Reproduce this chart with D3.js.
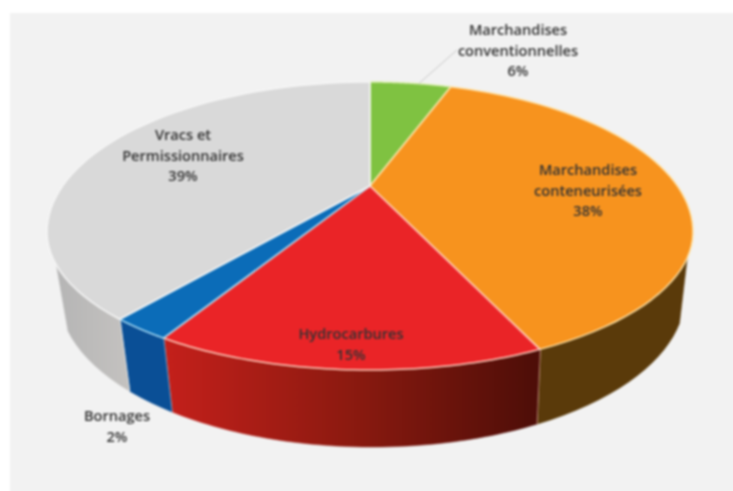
<!DOCTYPE html>
<html><head><meta charset="utf-8">
<script src="https://cdn.jsdelivr.net/npm/d3@7"></script>
<style>html,body{margin:0;background:#fff;overflow:hidden;height:100%}svg{display:block;filter:blur(1.1px)}</style>
</head><body><div id="c"></div>
<script>
const categories=[["Marchandises","conventionnelles"],["Marchandises","conteneurisées"],["Hydrocarbures"],["Bornages"],["Vracs et","Permissionnaires"]];
const shares=[5.5,38,14.7,2.4,39.4];
const percentLabels=["6%","38%","15%","2%","39%"];
const topColors=["#7fc241","#f7931e","#ea2427","#0b6cb8","#d9d9d9"];
const sideColors=["#4d7a25","#5a3a0a","url(#redSide)","#0a4f96","url(#greySide)"];
const labelCenters=[[518,30],[588,170],[351,334],[117,416],[183,135]];
const edgeColors=["#dcefb0","#ffe3a8","#ffd0c0","#a8dcf5","#f6f6f6"];

const W=733,H=491,bleed=12;
const svg=d3.select("#c").append("svg").attr("width",W+bleed).attr("height",H+bleed);
const defs=svg.append("defs");
function grad(id,stops){const g=defs.append("linearGradient").attr("id",id).attr("gradientUnits","userSpaceOnUse")
  .attr("x1",165).attr("x2",535).attr("y1",0).attr("y2",0);
  stops.forEach(s=>g.append("stop").attr("offset",s[0]).attr("stop-color",s[1]));}
grad("redSide",[[0,"#c4201b"],[.5,"#8c1a10"],[1,"#4e0e08"]]);
const gg=defs.append("linearGradient").attr("id","greySide").attr("gradientUnits","userSpaceOnUse").attr("x1",50).attr("x2",130).attr("y1",0).attr("y2",0);
gg.append("stop").attr("offset",0).attr("stop-color","#b4b4b4");
gg.append("stop").attr("offset",1).attr("stop-color","#c4c2c0");

svg.append("rect").attr("x",10).attr("y",13).attr("width",W+bleed-10).attr("height",H+bleed-13).attr("fill","#f2f2f2");

// the top face's far half is flatter in the picture's perspective than its near half
const topEl={cx:370,cy:232,rx:323,ryUp:150,ryDown:138}, botEl={cx:372,cy:295,rx:313,ryUp:152,ryDown:152};
const h=(232-186)/150, k=Math.sqrt(1-h*h);
// perspective: true pie angle -> point on unit disc as seen on tilted top face
function persp(a){const x=Math.sin(a),y=Math.cos(a),d=1+h*y;return [x*k/d,(y+h)/d];}
const onEl=(e,p)=>[e.cx+e.rx*p[0],e.cy-(p[1]>=0?e.ryUp:e.ryDown)*p[1]];
const apex=onEl(topEl,[0,h]);
const pie=d3.pie().sort(null).value(d=>d)(shares);
const line=d3.line();
function sample(a0,a1,n=60){return d3.range(n+1).map(i=>a0+(a1-a0)*i/n);}
function edgeAngle(p){return Math.atan2(p[0],p[1]);}
const tMin=100*Math.PI/180,tMax=258*Math.PI/180;

// side walls
pie.forEach((s,i)=>{
  const ts=sample(s.startAngle,s.endAngle).map(a=>{const p=persp(a);let t=edgeAngle(p);if(t<0)t+=2*Math.PI;return t;})
    .filter(t=>t>=tMin&&t<=tMax);
  if(ts.length<2)return;
  const tp=ts.map(t=>onEl(topEl,[Math.sin(t),Math.cos(t)]));
  const bp=ts.map(t=>onEl(botEl,[Math.sin(t),Math.cos(t)])).reverse();
  svg.append("path").attr("d",line(tp.concat(bp))+"Z").attr("fill",sideColors[i]).attr("stroke",sideColors[i]).attr("stroke-width",.5);
  // right edge highlight of each wall
  const a=tp[tp.length-1],b=bp[0];
  if(i<pie.length-1)svg.append("line").attr("x1",a[0]).attr("y1",a[1]).attr("x2",b[0]).attr("y2",b[1]).attr("stroke",edgeColors[i+1]).attr("stroke-width",1.6);
});
// top face
pie.forEach((s,i)=>{
  const rim=sample(s.startAngle,s.endAngle).map(a=>onEl(topEl,persp(a)));
  svg.append("path").attr("d",line([apex].concat(rim))+"Z").attr("fill",topColors[i]).attr("stroke",edgeColors[i]).attr("stroke-width",1.5).attr("stroke-linejoin","round");
});
// leader
const lead=onEl(topEl,persp(pie[0].startAngle+(pie[0].endAngle-pie[0].startAngle)*.6));
svg.append("line").attr("x1",lead[0]).attr("y1",lead[1]).attr("x2",457).attr("y2",50).attr("stroke","#c8c8c8").attr("stroke-width",1);

// labels
const lh=20.5;
categories.forEach((c,i)=>{
  const t=svg.append("text").attr("text-anchor","middle").attr("font-family","'Open Sans',sans-serif").attr("font-size",14.6).attr("font-weight",600).attr("fill","#333");
  c.concat(percentLabels[i]).forEach((l,j)=>t.append("tspan").attr("x",labelCenters[i][0]).attr("y",labelCenters[i][1]+5+j*lh).text(l));
});
</script></body></html>
